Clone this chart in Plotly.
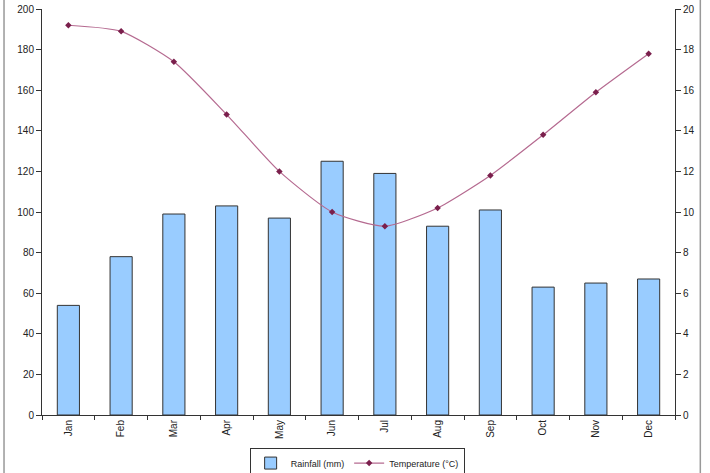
import plotly.graph_objects as go

months = ["Jan", "Feb", "Mar", "Apr", "May", "Jun", "Jul", "Aug", "Sep", "Oct", "Nov", "Dec"]
rainfall = [54, 78, 99, 103, 97, 125, 119, 93, 101, 63, 65, 67]
temperature = [19.2, 18.9, 17.4, 14.8, 12.0, 10.0, 9.3, 10.2, 11.8, 13.8, 15.9, 17.8]

left_ticks = list(range(0, 201, 20))
right_ticks = list(range(0, 21, 2))

fig = go.Figure()
fig.add_trace(go.Bar(
    x=months, y=rainfall, name="Rainfall (mm)",
    marker=dict(color="#99CCFF", line=dict(color="#333333", width=1)),
    yaxis="y",
))
fig.add_trace(go.Scatter(
    x=months, y=temperature, name="Temperature (°C)",
    mode="lines+markers", line=dict(color="#B56A90", width=1.2, shape="spline", smoothing=0.6),
    marker=dict(color="#7A1F4C", size=5, symbol="diamond"),
    yaxis="y2",
))

font = dict(family="Liberation Sans, Arial, sans-serif", size=10, color="#222222")
fig.update_layout(
    width=710, height=473,
    margin=dict(l=42, r=35, t=9, b=58, autoexpand=False),
    paper_bgcolor="white", plot_bgcolor="white",
    font=font,
    bargap=0.58,
    showlegend=True,
    legend=dict(orientation="h", x=0.503, xanchor="center", xref="container",
                y=0.021, yanchor="middle", yref="container",
                bordercolor="#333333", borderwidth=1, font=dict(size=9),
                itemwidth=30, tracegroupgap=0),
    xaxis=dict(tickangle=-90, showline=True, linecolor="#333333", linewidth=1,
               ticks="outside", ticklen=4, tickcolor="#333333", tickson="boundaries",
               showgrid=False, range=[-0.5, 11.5], automargin=False),
    yaxis=dict(range=[0, 200], tickvals=left_ticks, showline=True, linecolor="#333333",
               linewidth=1, ticks="outside", ticklen=5, tickcolor="#333333",
               showgrid=False, zeroline=False, automargin=False),
    yaxis2=dict(range=[0, 20], tickvals=right_ticks, overlaying="y", side="right",
                showline=True, linecolor="#333333", linewidth=1, ticks="outside",
                ticklen=5, tickcolor="#333333", showgrid=False, zeroline=False,
                automargin=False),
    shapes=[
        dict(type="line", xref="paper", yref="paper", x0=-0.06, x1=-0.06, y0=-0.2, y1=1.05,
             line=dict(color="#999999", width=1.5)),
        dict(type="line", xref="paper", yref="paper", x0=1.04, x1=1.04, y0=-0.2, y1=1.05,
             line=dict(color="#999999", width=1.5)),
    ],
)

fig.write_html(
    "out.html",
    config={"displayModeBar": False},
    post_script="document.body.style.margin='0';document.body.style.overflow='hidden';",
)
